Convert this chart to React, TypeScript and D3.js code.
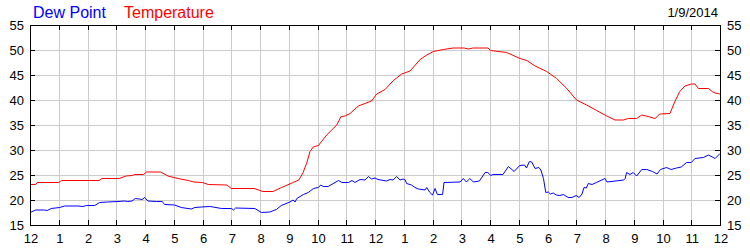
import React from "react";
import * as d3 from "d3";

// ---- data (hours since midnight, °F) ----
const tempHours = [0,0.2,0.25,1.0,1.1,2.4,2.5,3.1,3.35,3.55,3.65,3.95,4.05,4.55,4.8,5.15,5.5,5.7,6.0,6.2,6.85,7.0,7.8,8.1,8.45,8.75,9.15,9.35,9.5,9.62,9.74,9.85,10.03,10.32,10.67,10.82,10.96,11.13,11.42,11.88,12.06,12.35,12.64,12.93,13.22,13.57,13.8,14.03,14.38,14.72,15.1,15.25,15.4,15.93,16.02,16.58,17.04,17.28,17.57,17.97,18.32,18.67,19.01,19.36,19.71,20.06,20.35,20.64,20.81,21.1,21.28,21.5,21.74,21.91,22.26,22.43,22.6,22.78,23.01,23.13,23.25,23.6,23.77,24.0];
const tempValues = [23.1,23.1,23.5,23.5,23.9,23.9,24.3,24.3,24.8,24.9,25.1,25.1,25.6,25.6,24.8,24.3,23.9,23.6,23.5,23.1,23.0,22.3,22.3,21.7,21.7,22.5,23.5,24.0,25.5,27.3,29.7,30.6,30.9,33.0,35.0,36.7,36.8,37.3,38.8,39.8,41.2,42.1,43.9,45.2,45.8,48.1,49.0,49.7,50.1,50.4,50.4,50.2,50.4,50.4,49.9,49.5,48.3,47.9,46.8,45.7,44.3,42.3,40.0,39.0,37.9,36.8,36.0,36.0,36.3,36.3,37.0,36.7,36.3,37.2,37.3,39.7,41.7,42.8,43.2,43.2,42.3,42.3,41.5,41.2];

const dewHours = [0,0.2,0.5,0.6,0.74,1.03,1.2,1.67,1.84,1.96,2.25,2.42,2.7,3.06,3.29,3.4,3.55,3.66,3.8,3.9,3.99,4.1,4.4,4.6,4.68,5.03,5.26,5.61,5.73,5.96,6.25,6.37,6.66,7.0,7.08,7.15,7.82,8.05,8.34,8.57,8.74,9.04,9.15,9.22,9.28,9.51,9.68,9.86,10.03,10.11,10.2,10.37,10.73,10.85,11.08,11.2,11.3,11.48,11.65,11.77,11.88,12.0,12.1,12.4,12.52,12.63,12.75,12.87,12.98,13.05,13.1,13.27,13.39,13.51,13.74,13.8,13.91,14.0,14.09,14.17,14.35,14.4,14.96,15.07,15.18,15.3,15.42,15.63,15.83,15.92,16.03,16.1,16.45,16.64,16.84,17.03,17.2,17.27,17.37,17.45,17.57,17.7,17.77,17.86,17.94,18.03,18.1,18.2,18.3,18.43,18.55,18.72,18.85,19.0,19.1,19.2,19.27,19.35,19.42,19.55,19.7,20.0,20.07,20.65,20.7,20.75,20.87,20.98,21.1,21.28,21.45,21.65,21.81,21.93,22.14,22.3,22.49,22.65,22.84,23.0,23.13,23.42,23.6,23.83,24.0];
const dewValues = [17.5,18.0,18.0,17.9,18.3,18.5,18.8,18.8,18.7,18.9,18.9,19.5,19.6,19.7,19.8,19.7,19.8,20.3,20.2,20.1,20.5,19.8,19.7,19.7,19.1,19.0,18.5,18.2,18.5,18.6,18.7,18.6,18.3,18.3,18.0,18.4,18.3,17.5,17.6,18.1,18.9,19.6,20.0,19.6,20.3,21.1,21.5,22.3,22.5,23.0,22.7,22.7,23.9,23.5,23.5,23.9,23.5,24.1,24.0,24.7,24.2,24.4,24.1,23.8,24.1,24.0,24.7,24.0,24.2,24.0,23.3,23.0,22.5,22.2,22.0,22.5,21.5,21.0,22.3,21.1,21.1,23.5,23.6,24.3,23.6,24.3,23.6,23.8,25.5,25.5,24.9,25.1,25.1,26.7,25.7,26.9,27.0,26.4,27.7,27.6,26.3,26.5,26.0,24.3,21.5,21.6,21.2,21.4,21.0,20.9,21.1,20.5,20.5,20.9,20.5,21.2,22.5,22.4,23.3,23.1,23.5,24.3,23.6,24.0,24.3,25.5,25.1,25.5,24.8,26.1,26.1,25.7,25.2,26.1,26.5,26.1,26.4,26.6,27.5,27.5,28.3,28.5,29.0,28.3,29.3];

const hourTicks = d3.range(0, 25);
const hourLabels = ["12","1","2","3","4","5","6","7","8","9","10","11","12","1","2","3","4","5","6","7","8","9","10","11","12"];
const yTicks = [15, 20, 25, 30, 35, 40, 45, 50, 55];
const seriesNames = ["Dew Point", "Temperature"];
const dateLabel = "1/9/2014";

const W = 750, H = 250;
const L = 30, R = 720, T = 25, B = 225;
const FONT = "Arial, 'Liberation Sans', sans-serif";

export default function App() {
  const x = d3.scaleLinear().domain([0, 24]).range([L, R]);
  const y = d3.scaleLinear().domain([15, 55]).range([B, T]);
  const px = (v: number) => Math.round(v) + 0.5;

  const line = d3.line<[number, number]>().x(d => x(d[0])).y(d => y(d[1]));
  const tempPath = line(tempHours.map((h, i) => [h, tempValues[i]]) as [number, number][]) || "";
  const dewPath = line(dewHours.map((h, i) => [h, dewValues[i]]) as [number, number][]) || "";

  return (
    <svg width={W} height={H} style={{ position: "absolute", left: 0, top: 0, background: "#fff" }} fontFamily={FONT}>
      <rect x={0} y={0} width={W} height={H} fill="#fff" />
      {/* grid */}
      {hourTicks.slice(1, -1).map(h => (
        <line key={"vg" + h} x1={px(x(h))} x2={px(x(h))} y1={T} y2={B} stroke="#cccccc" strokeWidth={1} />
      ))}
      {yTicks.slice(1, -1).map(v => (
        <line key={"hg" + v} x1={L} x2={R} y1={px(y(v))} y2={px(y(v))} stroke="#cccccc" strokeWidth={1} />
      ))}
      {/* series */}
      <path d={dewPath} fill="none" stroke="#0000ff" strokeWidth={1} />
      <path d={tempPath} fill="none" stroke="#ff0000" strokeWidth={1} />
      {/* frame */}
      <rect x={px(L)} y={px(T)} width={Math.round(R) - Math.round(L)} height={Math.round(B) - Math.round(T)} fill="none" stroke="#000" strokeWidth={1} />
      {/* ticks */}
      {hourTicks.map(h => (
        <g key={"xt" + h}>
          <line x1={px(x(h))} x2={px(x(h))} y1={T} y2={T + 5} stroke="#000" />
          <line x1={px(x(h))} x2={px(x(h))} y1={B} y2={B - 5} stroke="#000" />
        </g>
      ))}
      {yTicks.map(v => (
        <g key={"yt" + v}>
          <line x1={L} x2={L + 5} y1={px(y(v))} y2={px(y(v))} stroke="#000" />
          <line x1={R} x2={R - 5} y1={px(y(v))} y2={px(y(v))} stroke="#000" />
        </g>
      ))}
      {/* labels */}
      {yTicks.map(v => (
        <g key={"yl" + v}>
          <text x={24} y={y(v) + 5} fontSize={13} textAnchor="end" fill="#000">{v}</text>
          <text x={727} y={y(v) + 5} fontSize={13} textAnchor="start" fill="#000">{v}</text>
        </g>
      ))}
      {hourTicks.map((h, i) => (
        <text key={"xl" + h} x={x(h) + 1} y={243} fontSize={13} textAnchor="middle" fill="#000">{hourLabels[i]}</text>
      ))}
      <text x={33} y={18} fontSize={16} fill="#0000ff">{seriesNames[0]}</text>
      <text x={124} y={18} fontSize={16} fill="#ff0000">{seriesNames[1]}</text>
      <text x={718} y={17} fontSize={13} textAnchor="end" fill="#000">{dateLabel}</text>
    </svg>
  );
}
